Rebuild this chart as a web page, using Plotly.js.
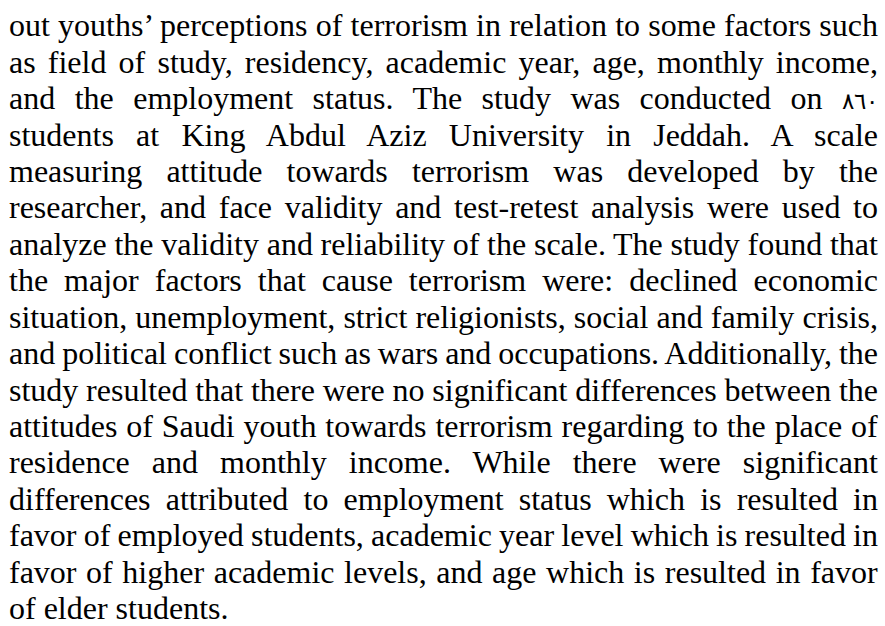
<!DOCTYPE html>
<html>
<head>
<meta charset="utf-8">
<script src="https://cdn.plot.ly/plotly-3.0.1.min.js"></script>
<style>
  html, body { margin: 0; padding: 0; background: #ffffff; }
  #chart { width: 885px; height: 626px; }
</style>
</head>
<body>
<div id="chart"></div>
<script>
// Text lines of the paragraph (as laid out in the reference)
const lines = [
  "out youths’ perceptions of terrorism in relation to some factors such",
  "as field of study, residency, academic year, age, monthly income,",
  "and the employment status. The study was conducted on ٨٦٠",
  "students at King Abdul Aziz University in Jeddah. A scale",
  "measuring attitude towards terrorism was developed by the",
  "researcher, and face validity and test-retest analysis were used to",
  "analyze the validity and reliability of the scale. The study found that",
  "the major factors that cause terrorism were: declined economic",
  "situation, unemployment, strict religionists, social and family crisis,",
  "and political conflict such as wars and occupations. Additionally, the",
  "study resulted that there were no significant differences between the",
  "attitudes of Saudi youth towards terrorism regarding to the place of",
  "residence and monthly income. While there were significant",
  "differences attributed to employment status which is resulted in",
  "favor of employed students, academic year level which is resulted in",
  "favor of higher academic levels, and age which is resulted in favor",
  "of elder students."
];
// Every line is justified except the last one of the paragraph
const justified = lines.map((_, i) => i < lines.length - 1);
const lineIndex = lines.map((_, i) => i);

const FONT = "Liberation Serif";
const FONT_SIZE = 32;
const LEFT = 8, RIGHT = 878;
// shift so that the line's baseline sits on its axis position
const BASELINE_SHIFT = (0.891 - 0.216) / 2 * FONT_SIZE;

// Arabic-Indic digits are drawn smaller, as in the reference
const styled = t => t.replace(/([\u0660-\u0669]+)/g, '<span style="font-size:23px">$1</span>');

const annotations = lines.map((t, i) => ({
  text: styled(t),
  x: LEFT, y: lineIndex[i],
  xref: 'x', yref: 'y',
  xanchor: 'left', yanchor: 'middle', align: 'left',
  yshift: BASELINE_SHIFT,
  borderpad: 0,
  showarrow: false,
  font: { family: FONT, size: FONT_SIZE, color: '#000000' }
}));

const layout = {
  width: 885, height: 626,
  margin: { l: 0, r: 0, t: 0, b: 0, pad: 0 },
  paper_bgcolor: '#ffffff', plot_bgcolor: '#ffffff',
  showlegend: false,
  font: { family: FONT },
  xaxis: { range: [0, 885], visible: false, fixedrange: true },
  yaxis: { range: [16.191, -0.988], visible: false, fixedrange: true },
  annotations: annotations
};

function justify() {
  const host = document.getElementById('chart').getBoundingClientRect();
  const texts = document.querySelectorAll('#chart g.annotation text.annotation-text');
  texts.forEach((el, i) => {
    el.style.wordSpacing = '0px';
    if (!justified[i]) return;
    const r = el.getBoundingClientRect();
    const right = r.right - host.left;
    const spaces = (lines[i].match(/ /g) || []).length;
    if (spaces > 0) {
      el.style.wordSpacing = ((RIGHT - right) / spaces) + 'px';
    }
  });
}

Plotly.newPlot('chart', [], layout, { staticPlot: true, displayModeBar: false })
  .then(() => (document.fonts ? document.fonts.ready : Promise.resolve()))
  .then(justify);
</script>
</body>
</html>
